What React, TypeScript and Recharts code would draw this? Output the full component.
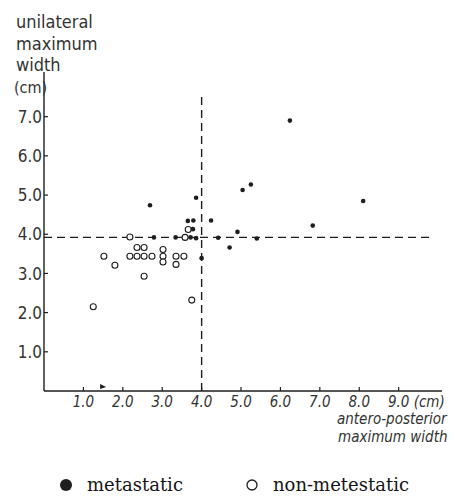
import React from 'react';
import {
  ScatterChart,
  Scatter,
  XAxis,
  YAxis,
  ReferenceLine,
  Legend,
  Label
} from 'recharts';

// valores (cm): [antero-posterior, unilateral]
const metastatic: [number, number][] = [
  [6.24, 6.9], [5.04, 5.13], [5.25, 5.27], [8.1, 4.85], [6.82, 4.22],
  [2.69, 4.74], [3.86, 4.93], [3.65, 4.34], [3.79, 4.35], [4.24, 4.35],
  [3.78, 4.13], [4.91, 4.06], [2.79, 3.92], [3.34, 3.92], [3.72, 3.92],
  [3.86, 3.9], [4.42, 3.91], [5.4, 3.89], [4.71, 3.66], [4.0, 3.39]
];

const nonMetastatic: [number, number][] = [
  [2.18, 3.93], [3.58, 3.92], [3.66, 4.12],
  [1.52, 3.44], [2.18, 3.44], [2.36, 3.44], [2.54, 3.44], [2.74, 3.44],
  [3.02, 3.44], [3.35, 3.44], [3.55, 3.44],
  [2.36, 3.66], [2.54, 3.66], [3.02, 3.61], [3.02, 3.29], [3.35, 3.23],
  [1.8, 3.21], [2.54, 2.93], [3.75, 2.32], [1.25, 2.15]
];

const strayMark: [number, number][] = [[1.5, 0.1]];

const xTicks = [1, 2, 3, 4, 5, 6, 7, 8, 9];
const yTicks = [1, 2, 3, 4, 5, 6, 7];

const cutX = 4.0;
const cutY = 3.92;

const toPoints = (arr: [number, number][]) => arr.map(([x, y]) => ({ x, y }));

const INK = '#1e1e1e';
const HAND = "'DejaVu Sans Condensed', 'Liberation Sans Narrow', sans-serif";
const SERIF = "'DejaVu Serif', 'Liberation Serif', serif";

const FilledDot = (props: any) => (
  <circle cx={props.cx} cy={props.cy} r={2.3} fill={INK} />
);

const OpenDot = (props: any) => (
  <circle cx={props.cx} cy={props.cy} r={3} fill="#fff" stroke={INK} strokeWidth={1.1} />
);

const ArrowMark = (props: any) => (
  <path
    d={`M${props.cx - 3},${props.cy - 3} L${props.cx + 3},${props.cy} L${props.cx - 3},${props.cy + 2} Z`}
    fill={INK}
  />
);

const XTick = (props: any) => {
  const { x, y, payload } = props;
  return (
    <g>
      <line x1={x} y1={y} x2={x} y2={y - 4} stroke={INK} strokeWidth={1.2} />
      <text x={x} y={y + 16} textAnchor="middle" fontFamily={HAND} fontStyle="italic" fontSize={15} fill="#333">
        {payload.value.toFixed(1)}
      </text>
      {payload.value === 9 && (
        <text x={x + 15} y={y + 16} fontFamily={HAND} fontStyle="italic" fontSize={15} fill="#333">
          (cm)
        </text>
      )}
    </g>
  );
};

const YTick = (props: any) => {
  const { x, y, payload } = props;
  return (
    <g>
      <line x1={x} y1={y} x2={x + 4} y2={y} stroke={INK} strokeWidth={1.2} />
      <text x={x - 2} y={y} dy="0.36em" textAnchor="end" fontFamily={HAND} fontSize={17} fill="#333">
        {payload.value.toFixed(1)}
      </text>
    </g>
  );
};

const YTitle = (props: any) => {
  const { x, y } = props.viewBox;
  const lines = ['unilateral', 'maximum', 'width'];
  return (
    <g fontFamily={HAND} fill="#333">
      {lines.map((t, i) => (
        <text key={t} x={x + 12} y={y - 44 + i * 21.7} fontSize={18}>
          {t}
        </text>
      ))}
      <text x={x + 10} y={y + 21} fontSize={16}>(cm)</text>
    </g>
  );
};

const XTitle = (props: any) => {
  const { x, y, width } = props.viewBox;
  return (
    <g fontFamily={HAND} fontStyle="italic" fontSize={15} fill="#333">
      <text x={x + width - 105} y={y + 33}>antero-posterior</text>
      <text x={x + width - 104} y={y + 51}>maximum width</text>
    </g>
  );
};

const renderLegend = () => (
  <svg width={459} height={27}>
    <circle cx={66} cy={15} r={6} fill={INK} />
    <text x={87} y={21} fontFamily={SERIF} fontSize={18} fill="#151515">metastatic</text>
    <circle cx={252} cy={15} r={5} fill="#fff" stroke={INK} strokeWidth={1.3} />
    <text x={273} y={21} fontFamily={SERIF} fontSize={18} fill="#151515">non-metestatic</text>
  </svg>
);

export default function App() {
  return (
    <div style={{ position: 'absolute', left: 0, top: 0, width: 459, height: 497, background: '#fff' }}>
      <ScatterChart width={459} height={497} margin={{ top: 72, right: 17, bottom: 76, left: 4 }}>
        <XAxis
          type="number"
          dataKey="x"
          domain={[0, 10.1]}
          ticks={xTicks}
          tick={<XTick />}
          tickLine={false}
          tickSize={0}
          tickMargin={0}
          height={30}
          axisLine={{ stroke: INK, strokeWidth: 1.4 }}
          allowDataOverflow
        >
          <Label content={<XTitle />} />
        </XAxis>
        <YAxis
          type="number"
          dataKey="y"
          domain={[0, 8.14]}
          ticks={yTicks}
          tick={<YTick />}
          tickLine={false}
          tickSize={0}
          tickMargin={0}
          width={40}
          axisLine={{ stroke: INK, strokeWidth: 1.4 }}
          allowDataOverflow
        >
          <Label content={<YTitle />} />
        </YAxis>
        <ReferenceLine
          segment={[{ x: cutX, y: 0 }, { x: cutX, y: 7.5 }]}
          stroke={INK}
          strokeWidth={1.4}
          strokeDasharray="8 5"
        />
        <ReferenceLine
          segment={[{ x: 0, y: cutY }, { x: 9.8, y: cutY }]}
          stroke={INK}
          strokeWidth={1.4}
          strokeDasharray="8 5"
        />
        <Scatter name="non-metestatic" data={toPoints(nonMetastatic)} shape={<OpenDot />} isAnimationActive={false} />
        <Scatter name="metastatic" data={toPoints(metastatic)} shape={<FilledDot />} isAnimationActive={false} />
        <Scatter name="mark" data={toPoints(strayMark)} shape={<ArrowMark />} isAnimationActive={false} legendType="none" />
        <Legend
          content={renderLegend}
          layout="horizontal"
          verticalAlign="middle"
          align="center"
          wrapperStyle={{ position: 'absolute', left: 0, top: 470, width: 459, height: 27 }}
        />
      </ScatterChart>
    </div>
  );
}
